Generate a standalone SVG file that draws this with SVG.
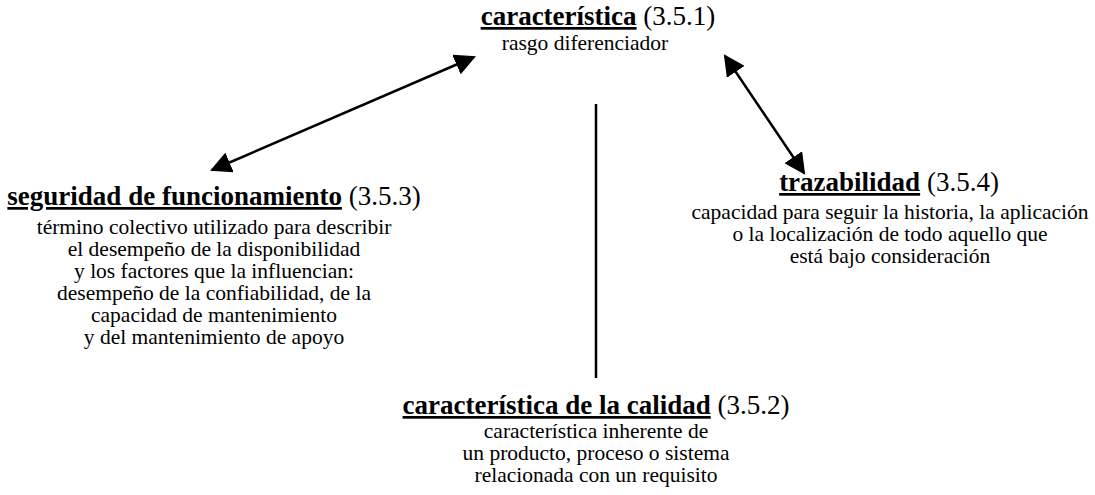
<svg xmlns="http://www.w3.org/2000/svg" width="1095" height="495" viewBox="0 0 1095 495">
<style>
text{fill:#000;text-anchor:middle}
.h{font-size:27px}
.t{font-weight:bold;text-decoration:underline}
.d{font-size:21.5px}
.c{stroke:#000;stroke-width:2.5;fill:none}
</style>
<defs>
<marker id="ah" viewBox="0 0 10 10" refX="9" refY="5" markerWidth="8.5" markerHeight="8.5" markerUnits="strokeWidth" orient="auto-start-reverse">
<path d="M0,0 L10,5 L0,10 Z" fill="#000"/>
</marker>
</defs>
<g id="connectors">
<line class="c" x1="212" y1="170" x2="474" y2="57" marker-start="url(#ah)" marker-end="url(#ah)"/>
<line class="c" x1="725" y1="56" x2="804" y2="173" marker-start="url(#ah)" marker-end="url(#ah)"/>
<line class="c" x1="596" y1="104" x2="596" y2="378" stroke-width="2"/>
</g>
<g font-family="'Liberation Serif', 'DejaVu Serif', serif">
<g id="caracteristica">
<text class="h" x="598" y="25"><tspan class="t">característica</tspan> (3.5.1)</text>
<text class="d" x="585" y="50">rasgo diferenciador</text>
</g>
<g id="seguridad">
<text class="h" x="214" y="205"><tspan class="t">seguridad de funcionamiento</tspan> (3.5.3)</text>
<text class="d" x="214" y="234">término colectivo utilizado para describir</text>
<text class="d" x="214" y="256">el desempeño de la disponibilidad</text>
<text class="d" x="214" y="278">y los factores que la influencian:</text>
<text class="d" x="214" y="300">desempeño de la confiabilidad, de la</text>
<text class="d" x="214" y="322">capacidad de mantenimiento</text>
<text class="d" x="214" y="344">y del mantenimiento de apoyo</text>
</g>
<g id="trazabilidad">
<text class="h" x="889" y="191"><tspan class="t">trazabilidad</tspan> (3.5.4)</text>
<text class="d" x="890" y="219">capacidad para seguir la historia, la aplicación</text>
<text class="d" x="890" y="241">o la localización de todo aquello que</text>
<text class="d" x="890" y="263">está bajo consideración</text>
</g>
<g id="calidad">
<text class="h" x="596" y="414"><tspan class="t">característica de la calidad</tspan> (3.5.2)</text>
<text class="d" x="596" y="438">característica inherente de</text>
<text class="d" x="596" y="460">un producto, proceso o sistema</text>
<text class="d" x="596" y="482">relacionada con un requisito</text>
</g>
</g>
</svg>
